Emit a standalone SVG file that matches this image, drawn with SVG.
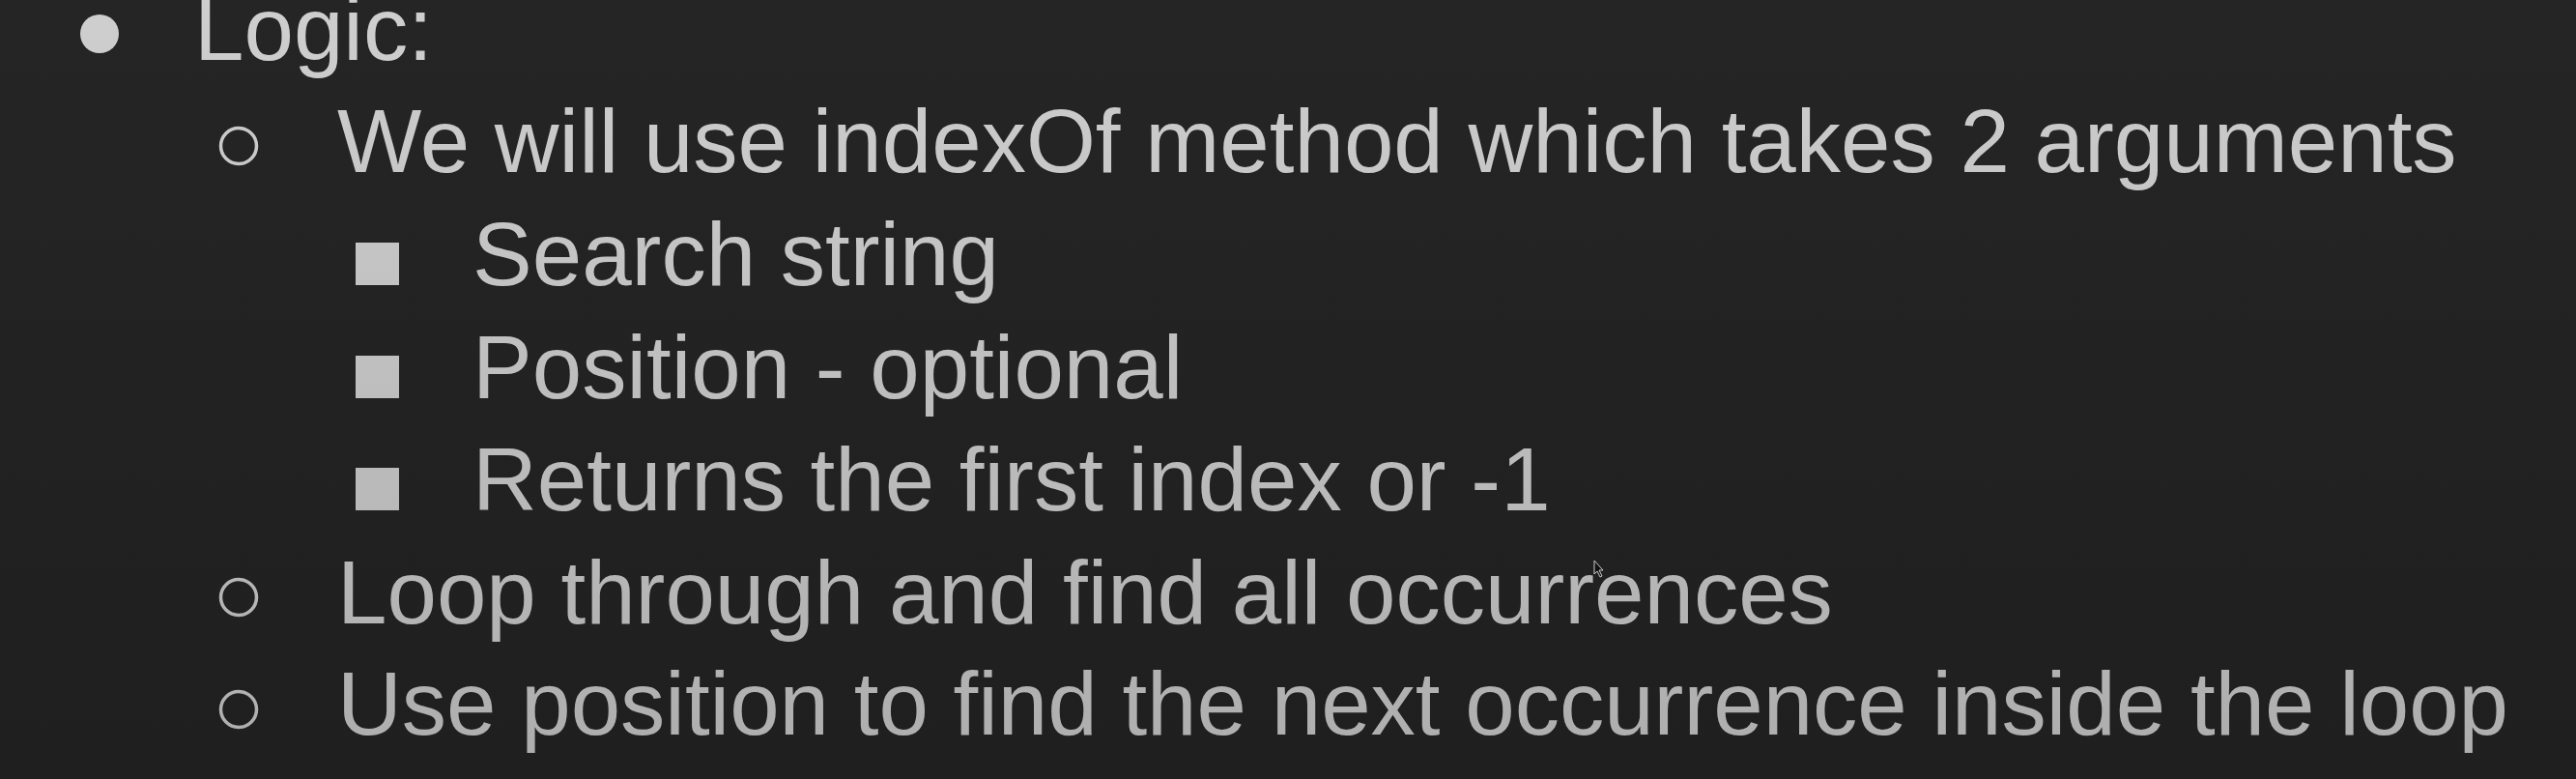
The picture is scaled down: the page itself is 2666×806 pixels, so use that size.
<svg xmlns="http://www.w3.org/2000/svg" width="2666" height="806" viewBox="0 0 2666 806">
  <defs>
    <linearGradient id="bg" x1="0" y1="0" x2="0" y2="806" gradientUnits="userSpaceOnUse">
      <stop offset="0" stop-color="#252525"/>
      <stop offset="1" stop-color="#1f1f1f"/>
    </linearGradient>
    <linearGradient id="fg" x1="0" y1="0" x2="0" y2="806" gradientUnits="userSpaceOnUse">
      <stop offset="0" stop-color="#cfcfcf"/>
      <stop offset="1" stop-color="#adadad"/>
    </linearGradient>
  </defs>
  <style>
    text { font-family: "Liberation Sans", Arial, Helvetica, sans-serif; font-size: 92.5px; fill: url(#fg); }
    .dot { fill: url(#fg); }
    .ring { fill: none; stroke: url(#fg); stroke-width: 3.5; }
    .sq { fill: url(#fg); }
  </style>
  <rect x="0" y="0" width="2666" height="806" fill="url(#bg)"/>

  <g id="l1">
    <circle class="dot" cx="103" cy="35" r="20"/>
    <text x="201" y="62">Logic:</text>
  </g>
  <g id="l2">
    <circle class="ring" cx="247" cy="151" r="18.5"/>
    <text x="349" y="178">We will use indexOf method which takes 2 arguments</text>
  </g>
  <g id="l3">
    <rect class="sq" x="368" y="251" width="45" height="44"/>
    <text x="489" y="295">Search string</text>
  </g>
  <g id="l4">
    <rect class="sq" x="368" y="368" width="45" height="44"/>
    <text x="489" y="412">Position - optional</text>
  </g>
  <g id="l5">
    <rect class="sq" x="368" y="484" width="45" height="44"/>
    <text x="489" y="528">Returns the first index or -1</text>
  </g>
  <g id="l6">
    <circle class="ring" cx="247" cy="618" r="18.5"/>
    <text x="349" y="645">Loop through and find all occurrences</text>
  </g>
  <g id="l7">
    <circle class="ring" cx="247" cy="734" r="18.5"/>
    <text x="349" y="760">Use position to find the next occurrence inside the loop</text>
  </g>
  <g id="cursor">
    <path d="M1650,580 L1650,594 L1653,591 L1656,597 L1658,596 L1655,590 L1659,590 Z" fill="#111111" stroke="#cccccc" stroke-width="1"/>
  </g>
</svg>
